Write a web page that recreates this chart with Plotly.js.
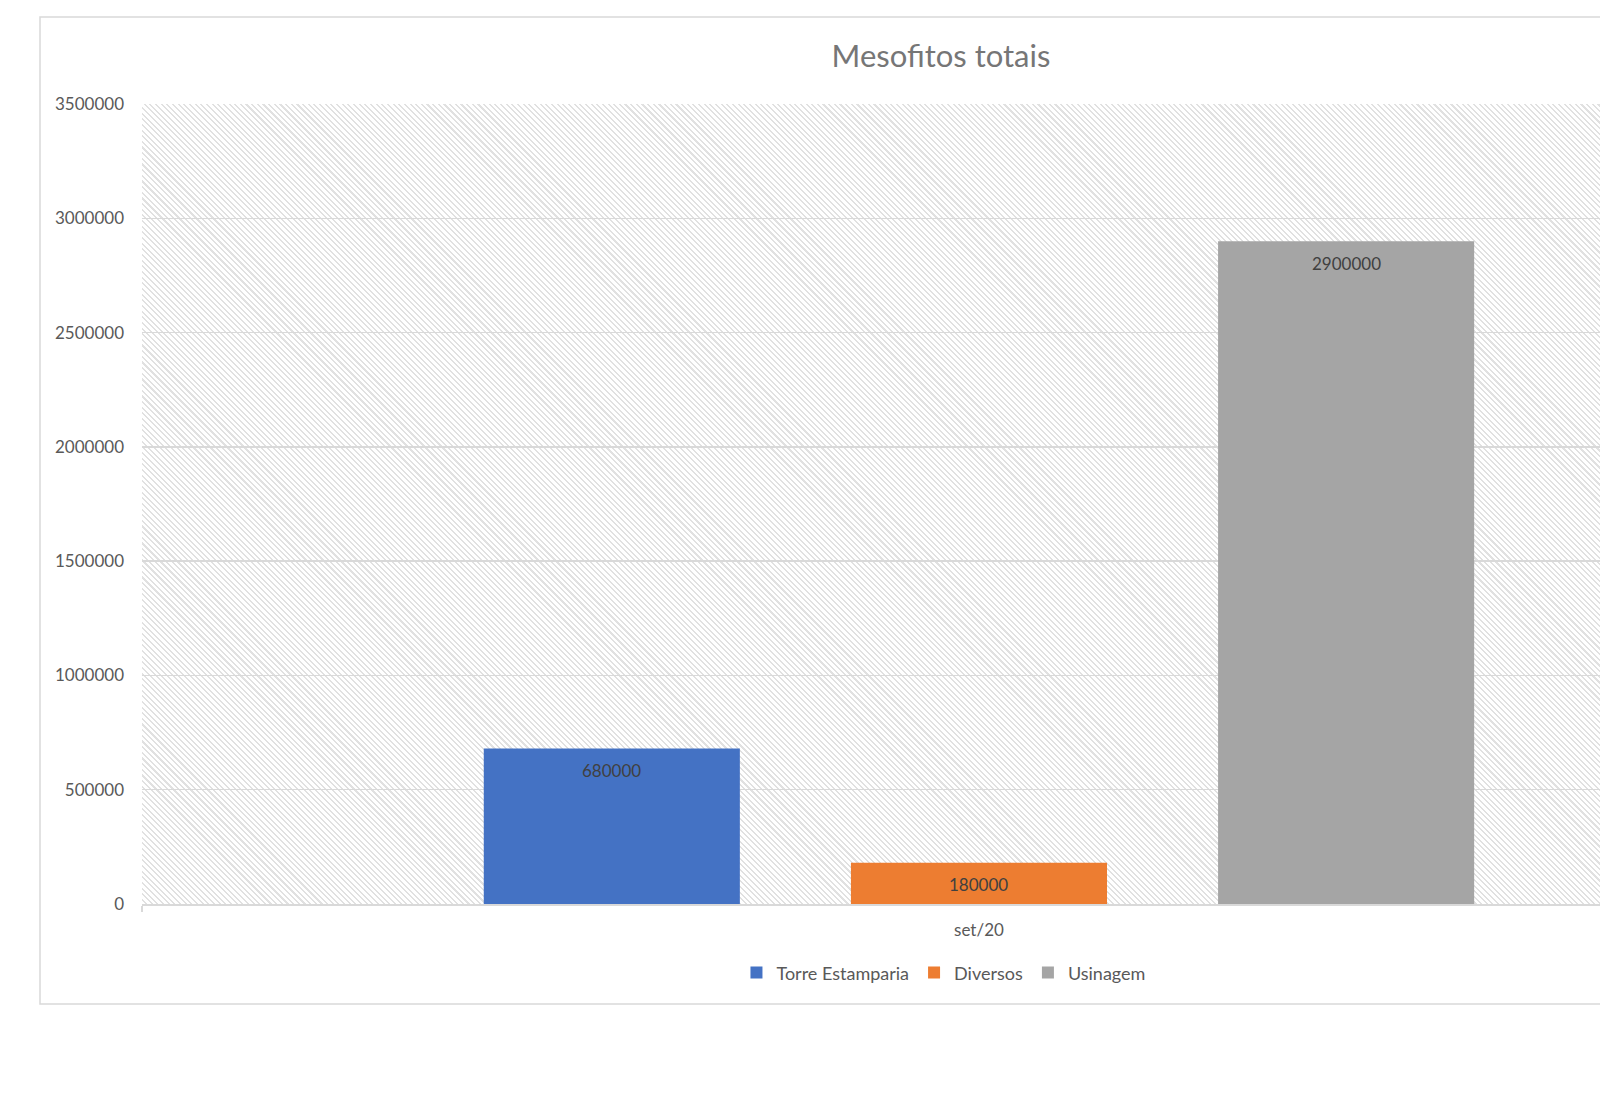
<!DOCTYPE html>
<html>
<head>
<meta charset="utf-8">
<script src="https://cdn.plot.ly/plotly-3.0.1.min.js"></script>
<style>
  html, body { margin: 0; padding: 0; background: #ffffff; width: 1600px; height: 1099px; overflow: hidden; }
  #wrap { position: relative; width: 1600px; height: 1099px; }
  #hatch {
    position: absolute; left: 142px; top: 104px; width: 1458px; height: 800px;
    background: repeating-linear-gradient(45deg, #ffffff 0px, #ffffff 2.5px, #e1e1e1 2.5px, #e1e1e1 4px);
    z-index: 0;
  }
  #chart { position: absolute; left: 0; top: 0; z-index: 1; }
</style>
</head>
<body>
<div id="wrap">
  <div id="hatch"></div>
  <div id="chart"></div>
</div>
<script>
// ---- data ----
const categories = ['set/20'];
const seriesNames = ['Torre Estamparia', 'Diversos', 'Usinagem'];
const torreEstamparia = [680000];
const diversos = [180000];
const usinagem = [2900000];
const seriesValues = [torreEstamparia, diversos, usinagem];
const seriesColors = ['#4472C4', '#ED7D31', '#A5A5A5'];
const yTickValues = [0, 500000, 1000000, 1500000, 2000000, 2500000, 3000000, 3500000];
const chartTitle = 'Mesofitos totais';

// ---- layout constants ----
const FONT = 'Lato, "Open Sans", "Noto Sans", sans-serif';
const BARGAP = 0.342;
const BARGROUPGAP = 0.3025;
const nSeries = seriesValues.length;
const slot = (1 - BARGAP) / nSeries;

const traces = seriesValues.map((vals, i) => ({
  type: 'bar',
  name: seriesNames[i],
  x: categories,
  y: vals,
  marker: { color: seriesColors[i], line: { width: 0 } },
  hoverinfo: 'skip'
}));

const annotations = [];
seriesValues.forEach((vals, i) => {
  vals.forEach((v, j) => {
    annotations.push({
      x: j + (i - (nSeries - 1) / 2) * slot,
      y: v,
      xref: 'x', yref: 'y',
      text: String(v),
      showarrow: false,
      yanchor: 'middle',
      yshift: -22,
      font: { family: FONT, size: 17, color: '#404040' }
    });
  });
});

const layout = {
  width: 1600,
  height: 1099,
  margin: { l: 142, r: 0, t: 104, b: 195, pad: 0 },
  paper_bgcolor: 'rgba(0,0,0,0)',
  plot_bgcolor: 'rgba(0,0,0,0)',
  font: { family: FONT, color: '#595959' },
  title: {
    text: chartTitle,
    font: { family: FONT, size: 31, color: '#767676' },
    xref: 'paper', x: 0.548, xanchor: 'center',
    yref: 'container', y: 0.949, yanchor: 'middle'
  },
  barmode: 'group',
  bargap: BARGAP,
  bargroupgap: BARGROUPGAP,
  xaxis: {
    type: 'category',
    range: [-0.5, 0.371],
    showgrid: false,
    zeroline: false,
    showline: true,
    linecolor: '#d9d9d9',
    linewidth: 1.5,
    ticks: 'outside',
    tickson: 'boundaries',
    ticklen: 6,
    tickcolor: '#d9d9d9',
    tickwidth: 1.5,
    tickfont: { family: FONT, size: 17, color: '#595959' },
    ticklabelstandoff: 10,
    fixedrange: true
  },
  yaxis: {
    range: [0, 3500000],
    tickvals: yTickValues,
    ticktext: yTickValues.map(String),
    showgrid: true,
    gridcolor: '#d9d9d9',
    gridwidth: 1.3,
    zeroline: false,
    showline: false,
    ticks: '',
    tickfont: { family: FONT, size: 17, color: '#595959' },
    ticklabelstandoff: 17,
    fixedrange: true
  },
  showlegend: true,
  legend: {
    orientation: 'h',
    x: 0.5497, xanchor: 'center',
    y: -0.086, yanchor: 'middle',
    font: { family: FONT, size: 18, color: '#595959' },
    traceorder: 'normal',
    bgcolor: 'rgba(0,0,0,0)'
  },
  annotations: annotations,
  shapes: [{
    type: 'rect', xref: 'paper', yref: 'paper',
    x0: -0.06996, x1: 1.3, y0: -0.125, y1: 1.10875,
    line: { color: '#d9d9d9', width: 1.5 },
    fillcolor: 'rgba(0,0,0,0)',
    layer: 'below'
  }]
};

Plotly.newPlot('chart', traces, layout, { displayModeBar: false, staticPlot: true });
</script>
</body>
</html>
